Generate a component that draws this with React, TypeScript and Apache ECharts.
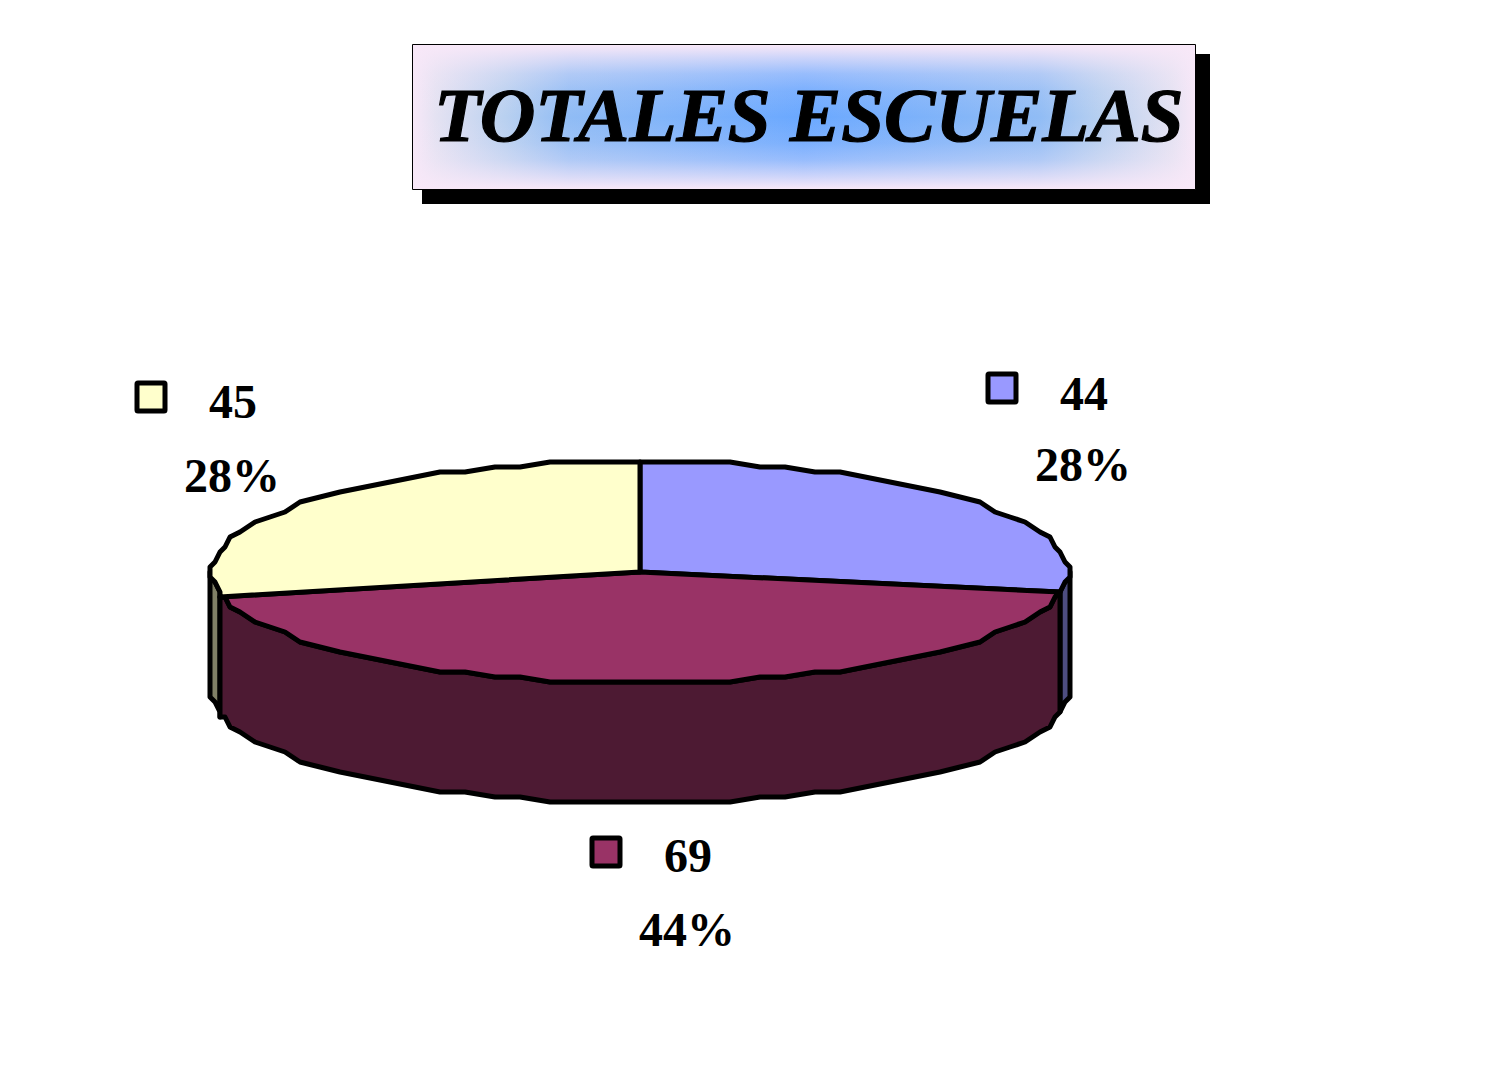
import React, { useEffect, useRef } from "react";
import * as echarts from "echarts";

const titleText = "TOTALES ESCUELAS";
const sliceValues = [44, 69, 45];
const topColors = ["#9999FF", "#993366", "#FFFFCC"];
const wallColors = ["#4D4D80", "#4D1A33", "#808066"];

const swatchCentres = [[1002, 388], [606, 852], [151, 397]];
const valueCentres = [[1084, 393], [688, 855], [233, 401]];
const percentCentres = [[1083, 464], [687, 929], [232, 475]];

const CX = 640, CY = 572, RX = 430, RY = 111, DEPTH = 120, STEP = 4, GRID = 5;
const FONT = "'Liberation Serif', 'Times New Roman', serif";

const total = sliceValues.reduce((a, b) => a + b, 0);

// The rim sits on a coarse pixel grid, which gives the outline its stepped look.
function rimPoint(deg: number, dy = 0): number[] {
  const t = (deg * Math.PI) / 180;
  const rawX = RX * Math.sin(t);
  const sx = Math.sign(rawX) * Math.round((Math.abs(rawX) - 1) / GRID) * GRID;
  const sy = Math.round((RY * Math.cos(t)) / GRID) * GRID;
  return [CX + sx, CY - sy + dy];
}

function arcAngles(a0: number, a1: number): number[] {
  const out = [a0];
  let a = (Math.floor(a0 / STEP) + 1) * STEP;
  while (a < a1) {
    out.push(a);
    a += STEP;
  }
  out.push(a1);
  return out;
}

function renderSlice(params: any, api: any) {
  const i = params.dataIndex;
  const v = api.value(0);
  let before = 0;
  for (let k = 0; k < i; k++) before += sliceValues[k];
  const a0 = (before / total) * 360;
  const a1 = ((before + v) / total) * 360;
  const children: any[] = [];

  const wa0 = Math.max(a0, 90);
  const wa1 = Math.min(a1, 270);
  if (wa1 > wa0) {
    const angles = arcAngles(wa0, wa1);
    const pts = angles.map((a) => rimPoint(a)).concat(angles.slice().reverse().map((a) => rimPoint(a, DEPTH)));
    children.push({
      type: "polygon",
      z2: i === 1 ? 2 : 1,
      shape: { points: pts },
      style: { fill: wallColors[i], stroke: "#000", lineWidth: 5, lineJoin: "round" },
    });
  }
  children.push({
    type: "polygon",
    z2: 3,
    shape: { points: [[CX, CY], ...arcAngles(a0, a1).map((a) => rimPoint(a))] },
    style: { fill: topColors[i], stroke: "#000", lineWidth: 5, lineJoin: "round" },
  });

  const [sx, sy] = swatchCentres[i];
  children.push({
    type: "rect",
    z2: 4,
    shape: { x: sx - 14, y: sy - 14, width: 28, height: 28, r: 1 },
    style: { fill: topColors[i], stroke: "#000", lineWidth: 5, lineJoin: "round" },
  });
  const textStyle = {
    fill: "#000",
    fontFamily: FONT,
    fontWeight: "bold",
    fontSize: 48,
    align: "center",
    verticalAlign: "middle",
  };
  children.push({
    type: "text",
    z2: 4,
    x: valueCentres[i][0],
    y: valueCentres[i][1],
    style: { ...textStyle, text: String(v) },
  });
  children.push({
    type: "text",
    z2: 4,
    x: percentCentres[i][0],
    y: percentCentres[i][1],
    style: { ...textStyle, text: Math.round((v / total) * 100) + "%" },
  });
  return { type: "group", children };
}

export default function App() {
  const ref = useRef<HTMLDivElement>(null);
  useEffect(() => {
    const chart = echarts.init(ref.current!, undefined, { renderer: "svg" });
    chart.setOption({
      animation: false,
      backgroundColor: "#fff",
      title: {
        text: titleText,
        left: 434,
        top: 76,
        padding: 0,
        textStyle: {
          fontFamily: FONT,
          fontStyle: "italic",
          fontWeight: "bold",
          fontSize: 77,
          color: "#000",
          textBorderColor: "#000",
          textBorderWidth: 1.2,
        },
      },
      graphic: [
        { type: "rect", z: 0, shape: { x: 422, y: 54, width: 788, height: 150 }, style: { fill: "#000" } },
        {
          type: "rect",
          z: 1,
          shape: { x: 412.5, y: 44.5, width: 783, height: 145 },
          style: {
            stroke: "#000",
            lineWidth: 1,
            fill: {
              type: "linear",
              x: 0,
              y: 0,
              x2: 1,
              y2: 0,
              colorStops: [
                { offset: 0, color: "#F8E8F8" },
                { offset: 0.03, color: "#E4E2F2" },
                { offset: 0.12, color: "#B8D0F0" },
                { offset: 0.2, color: "#90BCF5" },
                { offset: 0.5, color: "#6AA8FF" },
                { offset: 0.8, color: "#90BCF5" },
                { offset: 0.88, color: "#B8D0F0" },
                { offset: 0.97, color: "#E4E2F2" },
                { offset: 1, color: "#F8E8F8" },
              ],
            },
          },
        },
        {
          type: "rect",
          z: 2,
          shape: { x: 413, y: 45, width: 782, height: 144 },
          style: {
            fill: {
              type: "linear",
              x: 0,
              y: 0,
              x2: 0,
              y2: 1,
              colorStops: [
                { offset: 0, color: "rgba(248,232,248,1)" },
                { offset: 0.08, color: "rgba(248,232,248,0.72)" },
                { offset: 0.2, color: "rgba(248,232,248,0.32)" },
                { offset: 0.32, color: "rgba(248,232,248,0.12)" },
                { offset: 0.5, color: "rgba(248,232,248,0)" },
                { offset: 0.68, color: "rgba(248,232,248,0.12)" },
                { offset: 0.8, color: "rgba(248,232,248,0.32)" },
                { offset: 0.92, color: "rgba(248,232,248,0.72)" },
                { offset: 1, color: "rgba(248,232,248,1)" },
              ],
            },
          },
        },
      ],
      series: [
        {
          type: "custom",
          coordinateSystem: "none",
          renderItem: renderSlice,
          data: sliceValues,
          clip: false,
        },
      ],
    });
    return () => chart.dispose();
  }, []);
  return <div ref={ref} style={{ position: "fixed", left: 0, top: 0, width: 1502, height: 1076 }} />;
}
